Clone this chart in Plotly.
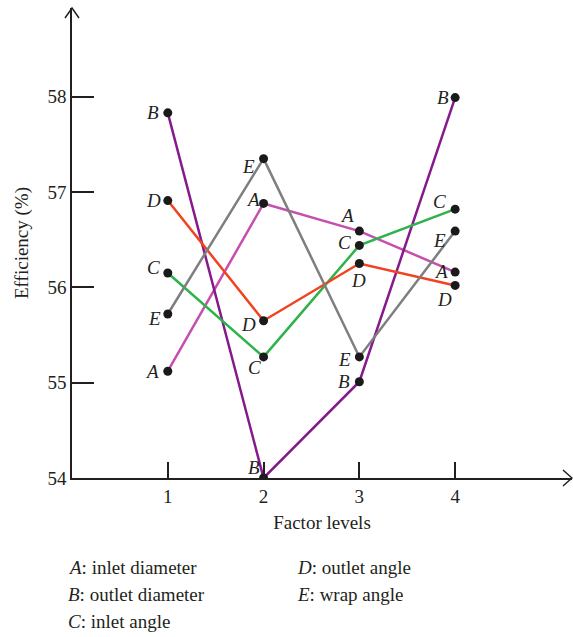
import plotly.graph_objects as go

levels = [1, 2, 3, 4]
series_names = ["A", "B", "C", "D", "E"]
A_vals = [55.12, 56.88, 56.59, 56.16]
B_vals = [57.83, 54.00, 55.01, 57.99]
C_vals = [56.15, 55.27, 56.44, 56.82]
D_vals = [56.91, 55.65, 56.25, 56.02]
E_vals = [55.72, 57.35, 55.27, 56.59]
y_ticks = [54, 55, 56, 57, 58]
x_ticks = [1, 2, 3, 4]
legend_lines = [
    ("A", "inlet diameter"), ("B", "outlet diameter"), ("C", "inlet angle"),
    ("D", "outlet angle"), ("E", "wrap angle"),
]

data = {"A": A_vals, "B": B_vals, "C": C_vals, "D": D_vals, "E": E_vals}
colors = {"A": "#C64FAE", "B": "#861A8C", "C": "#2DB34A", "D": "#F0431F", "E": "#7F7F7F"}
# label pixel offsets (dx right, dy down)
offsets = {
    "A": [(-16, 0), (-11, -4), (-12, -16), (-14, -1)],
    "B": [(-15, 0), (-10, -11), (-15, 0), (-12, 0)],
    "C": [(-14, -6), (-9, 11), (-15, -3), (-16, -8)],
    "D": [(-14, 0), (-15, 4), (-1, 17), (-11, 14)],
    "E": [(-13, 4), (-15, 8), (-15, 3), (-16, 9)],
}

FONT = "Liberation Serif"
FS = 19
TXT = "#231f20"
fig = go.Figure()
for s in series_names:
    fig.add_trace(go.Scatter(x=levels, y=data[s], mode="lines",
                             line=dict(color=colors[s], width=2.5), showlegend=False,
                             hoverinfo="skip"))
for s in series_names:
    fig.add_trace(go.Scatter(x=levels, y=data[s], mode="markers",
                             marker=dict(color="#1a1a1a", size=9), showlegend=False))

annotations = []
for s in series_names:
    for i, (x, y) in enumerate(zip(levels, data[s])):
        dx, dy = offsets[s][i]
        annotations.append(dict(x=x, y=y, xref="x", yref="y", text=f"<i>{s}</i>",
                                showarrow=False, xshift=dx, yshift=-dy,
                                font=dict(family=FONT, size=FS, color=TXT)))

# legend text
lx = [(66, 567), (66, 594), (66, 621), (295, 567), (295, 594)]
W, H = 573, 637
L, R, T, B = 72, 1, 8, 159
pw, ph = W - L - R, H - T - B
for (letter, desc), (px, py) in zip(legend_lines, lx):
    annotations.append(dict(x=(px - L) / pw, y=1 - (py - T) / ph, xref="paper", yref="paper",
                            xanchor="left", yanchor="middle", showarrow=False,
                            text=f"<i>{letter}</i>: {desc}",
                            font=dict(family=FONT, size=FS, color=TXT)))

shapes = [
    dict(type="path", xref="paper", yref="paper",
         path=f"M {-7/pw},{1-10/ph} L 0,1 L {7/pw},{1-10/ph}",
         line=dict(color=TXT, width=1.5)),
    dict(type="path", xref="paper", yref="paper",
         path=f"M {1-9/pw},{8/ph} L 1,0 L {1-9/pw},{-8/ph}",
         line=dict(color=TXT, width=1.5)),
]

fig.update_layout(
    width=W, height=H,
    margin=dict(l=L, r=R, t=T, b=B),
    paper_bgcolor="white", plot_bgcolor="white",
    font=dict(family=FONT, size=FS, color=TXT),
    annotations=annotations, shapes=shapes,
    xaxis=dict(range=[0, 5.22], tickvals=x_ticks, ticks="inside", ticklen=16,
               tickwidth=1.5, tickcolor=TXT, showgrid=False, zeroline=False,
               showline=True, linecolor=TXT, linewidth=1.5,
               title=dict(text="Factor levels", standoff=10,
                          font=dict(family=FONT, size=FS)),
               tickfont=dict(family=FONT, size=FS)),
    yaxis=dict(range=[54, 58.93], tickvals=y_ticks, ticks="inside", ticklen=22,
               tickwidth=1.5, tickcolor=TXT, showgrid=False, zeroline=False,
               showline=True, linecolor=TXT, linewidth=1.5,
               title=dict(text="Efficiency (%)", standoff=14,
                          font=dict(family=FONT, size=FS)),
               tickfont=dict(family=FONT, size=FS)),
)
fig.write_html("out.html")
